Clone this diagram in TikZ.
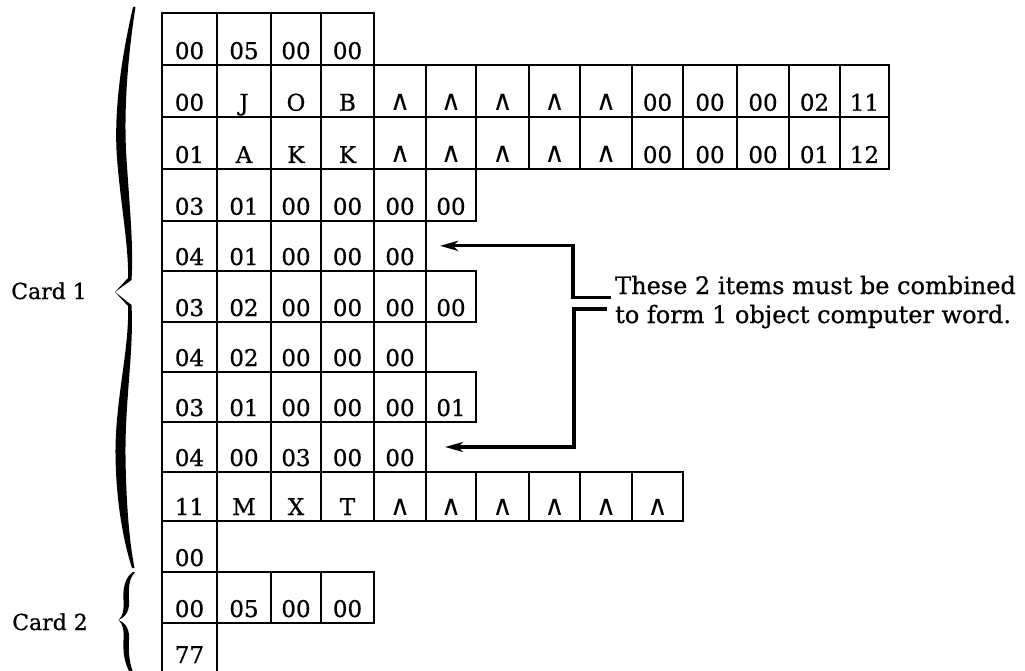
\documentclass[tikz,border=0pt]{standalone}
\usepackage{fontspec}
\setmainfont{DejaVu Serif}[FakeBold=0.7]
\newfontfamily\symfont{DejaVu Sans}
\usetikzlibrary{arrows.meta}
\newcommand\wsym{{\symfont\fontsize{28}{28}\selectfont ∧}}
\newcommand\colxs{{162,217,271,321,374,426,476,529,580,632,683,737,789,840,889}}
\newcommand\rowys{{12.7,65,116.7,169,220.7,271,322,372,422,472,521,572,623,669}}
\newcommand\cellat[4][]{%
  \pgfmathsetmacro\xa{\colxs[#3-1]}%
  \pgfmathsetmacro\xb{\colxs[#3]}%
  \pgfmathsetmacro\ya{\rowys[#2-1]}%
  \pgfmathsetmacro\yb{\rowys[#2]}%
  \pgfmathsetmacro\th{\yb-\ya-6}%
  \node[cell,#1,minimum width={\xb-\xa},text height=\th pt,anchor=south west] (c-#2-#3) at (\xa,\yb) {#4};%
}
\tikzset{
  cell/.style={draw,line width=2pt,inner sep=0pt,outer sep=0pt,text depth=6pt,font=\fontsize{23}{27}\selectfont},
  opencell/.style={draw=none},
  conn/.style={line width=3.2pt,-{Stealth[length=18pt,width=10pt,inset=5pt]}},
  note/.style={inner sep=0pt,font=\fontsize{24}{29}\selectfont},
  lab/.style={inner sep=0pt,font=\fontsize{22}{26}\selectfont},
}
\begin{document}
\begin{tikzpicture}[x=1pt,y=-1pt]
\fill[white] (0,0) rectangle (1025,671);
\useasboundingbox (0,0) rectangle (1025,671);
% grid rows
\foreach \t [count=\c] in {00,05,00,00} {\cellat{1}{\c}{\t}}
\foreach \t [count=\c] in {00,J,O,B,\wsym,\wsym,\wsym,\wsym,\wsym,00,00,00,02,11} {\cellat{2}{\c}{\t}}
\foreach \t [count=\c] in {01,A,K,K,\wsym,\wsym,\wsym,\wsym,\wsym,00,00,00,01,12} {\cellat{3}{\c}{\t}}
\foreach \t [count=\c] in {03,01,00,00,00,00} {\cellat{4}{\c}{\t}}
\foreach \t [count=\c] in {04,01,00,00,00} {\cellat{5}{\c}{\t}}
\foreach \t [count=\c] in {03,02,00,00,00,00} {\cellat{6}{\c}{\t}}
\foreach \t [count=\c] in {04,02,00,00,00} {\cellat{7}{\c}{\t}}
\foreach \t [count=\c] in {03,01,00,00,00,01} {\cellat{8}{\c}{\t}}
\foreach \t [count=\c] in {04,00,03,00,00} {\cellat{9}{\c}{\t}}
\foreach \t [count=\c] in {11,M,X,T,\wsym,\wsym,\wsym,\wsym,\wsym,\wsym} {\cellat{10}{\c}{\t}}
\cellat{11}{1}{00}
\foreach \t [count=\c] in {00,05,00,00} {\cellat{12}{\c}{\t}}
\cellat[opencell]{13}{1}{77}
\draw[line width=2pt] ([yshift=-12pt]c-13-1.south west) -- (c-13-1.north west) -- (c-13-1.north east) -- ([yshift=-12pt]c-13-1.south east);
% annotation
\node[note,anchor=base west] (n1) at (615,294) {These 2 items must be combined};
\node[note,anchor=base west] (n2) at (615,323) {to form 1 object computer word.};
\coordinate (u) at (611,297.5);
\coordinate (l) at (607,309);
\draw[conn] (u) -- ++(-38,0) |- ([xshift=14pt]c-5-5.east);
\draw[conn] (l) -- ++(-33,0) |- ([xshift=19pt]c-9-5.east);
% card labels
\node[lab,anchor=base east] (card1) at (87,299) {Card 1};
\node[lab,anchor=base east] (card2) at (88,630) {Card 2};
% brace card 1
\fill[black] (133,7) .. controls (122,55) and (114.5,105) .. (116.5,150)
  .. controls (119,195) and (129,245) .. (128,278) -- (115,292)
  -- (131.5,280) .. controls (134,245) and (128.5,195) .. (126,150)
  .. controls (124,105) and (128,55) .. (135.5,7) -- cycle;
\fill[black] (115,292) -- (128,306) .. controls (129.5,350) and (115,400) .. (115.5,455)
  .. controls (116,500) and (123,540) .. (132,568)
  -- (134.5,568) .. controls (129,540) and (126,500) .. (125.5,455)
  .. controls (125,400) and (134,350) .. (131.5,305) -- cycle;
% brace card 2
\fill[black] (133,572) .. controls (124,578) and (123,590) .. (123.5,600)
  .. controls (124,610) and (123,616) .. (118.5,620)
  .. controls (127,616) and (129.5,610) .. (129,600)
  .. controls (128.5,590) and (128.5,578) .. (135,572.5) -- cycle;
\fill[black] (118.5,620) .. controls (123,624) and (124,630) .. (123.5,640)
  .. controls (123,652) and (124,662) .. (130,673)
  -- (133,672) .. controls (129,662) and (128.5,652) .. (129,640)
  .. controls (129.5,630) and (127,624) .. (118.5,620) -- cycle;
\end{tikzpicture}
\end{document}
